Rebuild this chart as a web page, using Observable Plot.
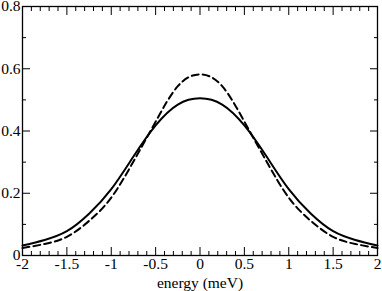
<!DOCTYPE html>
<html>
<head>
<meta charset="utf-8">
<script src="https://cdn.jsdelivr.net/npm/d3@7"></script>
<script src="https://cdn.jsdelivr.net/npm/@observablehq/plot@0.6"></script>
<style>
  html, body { margin: 0; padding: 0; background: #fff; }
  #chart svg text { font-family: 'Liberation Serif', 'Times New Roman', serif !important; font-size: 15.5px !important; fill: #000; }
</style>
</head>
<body>
<div id="chart"></div>
<script>
const energy = [-2, -1.75, -1.5, -1.25, -1, -0.75, -0.5, -0.25, 0, 0.25, 0.5, 0.75, 1, 1.25, 1.5, 1.75, 2];
const solidValues = [0.032, 0.050, 0.078, 0.134, 0.213, 0.318, 0.418, 0.485, 0.505, 0.485, 0.418, 0.318, 0.213, 0.134, 0.078, 0.050, 0.032];
const dashedValues = [0.024, 0.037, 0.060, 0.111, 0.186, 0.302, 0.430, 0.544, 0.582, 0.544, 0.430, 0.302, 0.186, 0.111, 0.060, 0.037, 0.024];

const xMajor = [-2, -1.5, -1, -0.5, 0, 0.5, 1, 1.5, 2];
const xLabels = ["-2", "-1.5", "-1", "-0.5", "0", "0.5", "1", "1.5", "2"];
const xMinor = [-1.9,-1.8,-1.7,-1.6,-1.4,-1.3,-1.2,-1.1,-0.9,-0.8,-0.7,-0.6,-0.4,-0.3,-0.2,-0.1,0.1,0.2,0.3,0.4,0.6,0.7,0.8,0.9,1.1,1.2,1.3,1.4,1.6,1.7,1.8,1.9];
const yMajor = [0, 0.2, 0.4, 0.6, 0.8];
const yLabels = ["0", "0.2", "0.4", "0.6", "0.8"];
const yMinor = [0.1, 0.3, 0.5, 0.7];

const solidData = energy.map((x, i) => ({x, y: solidValues[i]}));
const dashedData = energy.map((x, i) => ({x, y: dashedValues[i]}));

const FONT = "'Liberation Serif', 'Times New Roman', serif";
const noText = () => "";
const tickAxisX = (anchor, ticks, size) => Plot.axisX({anchor, ticks, tickSize: -size, tickFormat: noText, label: null, strokeWidth: 1});
const tickAxisY = (anchor, ticks, size) => Plot.axisY({anchor, ticks, tickSize: -size, tickFormat: noText, label: null, strokeWidth: 1});

const chart = Plot.plot({
  width: 382,
  height: 291,
  marginLeft: 22,
  marginRight: 5,
  marginTop: 6,
  marginBottom: 36,
  style: "font-family: 'Liberation Serif', 'Times New Roman', serif; font-size: 15.5px; background: #fff; color: #000; overflow: visible;",
  x: {domain: [-2, 2]},
  y: {domain: [0, 0.8]},
  marks: [
    Plot.line(dashedData, {x: "x", y: "y", stroke: "#000", strokeWidth: 2, strokeDasharray: "7,4", curve: "natural"}),
    Plot.line(solidData, {x: "x", y: "y", stroke: "#000", strokeWidth: 2, curve: "natural"}),
    tickAxisX("bottom", xMajor, 8),
    tickAxisX("bottom", xMinor, 4),
    tickAxisX("top", xMajor, 8),
    tickAxisX("top", xMinor, 4),
    tickAxisY("left", yMajor, 8),
    tickAxisY("left", yMinor, 4),
    tickAxisY("right", yMajor, 8),
    tickAxisY("right", yMinor, 4),
    Plot.axisX({anchor: "bottom", ticks: xMajor, tickSize: 0, tickPadding: 2, fontFamily: FONT, fontSize: 15.5, tickFormat: (d) => xLabels[xMajor.indexOf(d)], label: "energy (meV)", labelAnchor: "center", labelArrow: "none", labelOffset: 32}),
    Plot.axisY({anchor: "left", ticks: yMajor, tickSize: 0, tickPadding: 2, fontFamily: FONT, fontSize: 15.5, tickFormat: (d) => yLabels[yMajor.indexOf(d)], label: null}),
    Plot.frame({stroke: "#000", strokeWidth: 1.3})
  ]
});
document.getElementById("chart").appendChild(chart);
</script>
</body>
</html>
